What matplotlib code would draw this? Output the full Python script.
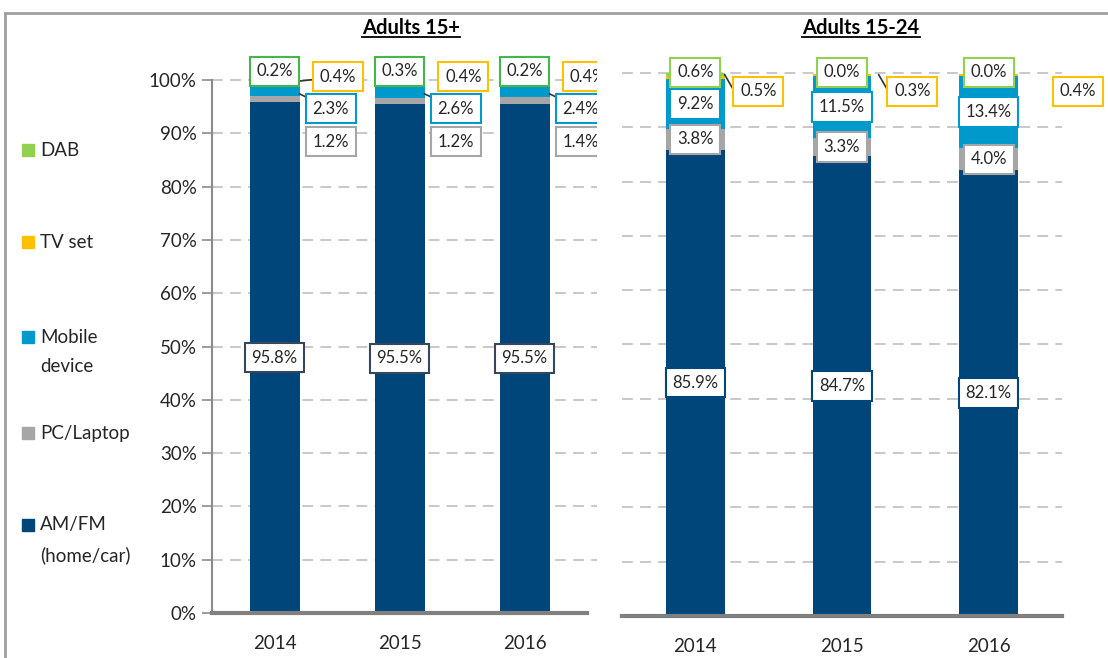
import matplotlib
matplotlib.use("Agg")
import matplotlib.pyplot as plt
from matplotlib.patches import Rectangle
from matplotlib.lines import Line2D

plt.rcParams['font.family'] = ['Lato', 'DejaVu Sans']

# ---- data (share of listening, %) ----
years = ['2014', '2015', '2016']
categories = ['AM/FM\n(home/car)', 'PC/Laptop', 'Mobile\ndevice', 'TV set', 'DAB']

amfm_15 = [95.8, 95.5, 95.5]
pc_15 = [1.2, 1.2, 1.4]
mobile_15 = [2.3, 2.6, 2.4]
tv_15 = [0.4, 0.4, 0.4]
dab_15 = [0.2, 0.3, 0.2]

amfm_1524 = [85.9, 84.7, 82.1]
pc_1524 = [3.8, 3.3, 4.0]
mobile_1524 = [9.2, 11.5, 13.4]
tv_1524 = [0.5, 0.3, 0.4]
dab_1524 = [0.6, 0.0, 0.0]

NAVY = '#00467a'
GRAY = '#a6a6a6'
BLUE = '#0099cc'
GOLD = '#ffc000'
GREEN = '#92d050'
TEXT = '#262626'
colors = [NAVY, GRAY, BLUE, GOLD, GREEN]

W, H = 1108, 658
fig = plt.figure(figsize=(W / 100, H / 100), dpi=100)


def px_axes(left, right, bottom, top):
    return fig.add_axes([left / W, 1 - bottom / H, (right - left) / W, (bottom - top) / H])


def label(ax, text, xy, xytext, edge, leader=False, clip=True, conn="arc3"):
    kw = dict(ha='center', va='center', fontsize=12, color=TEXT, zorder=5,
              bbox=dict(boxstyle='square,pad=0.4', fc='white', ec=edge, lw=1.5),
              annotation_clip=False, clip_on=clip)
    if leader:
        kw['arrowprops'] = dict(arrowstyle='-', color='#333333', lw=1.2,
                                shrinkA=0, shrinkB=0, connectionstyle=conn)
    ax.annotate(text, xy=xy, xytext=xytext, **kw)


def base_axes(ax, xlim):
    ax.set_xlim(*xlim)
    ax.set_ylim(0, 105)
    ax.set_axisbelow(True)
    for s in ('top', 'right'):
        ax.spines[s].set_visible(False)
    ax.spines['bottom'].set_color('#808080')
    ax.spines['bottom'].set_linewidth(3)
    ax.spines['bottom'].set_bounds(-0.5, 2.5)
    ax.hlines(range(10, 101, 10), xlim[0], xlim[1], colors='#c4c4c4',
              linestyles=(0, (6, 4)), lw=1.3, zorder=0)
    ax.set_xticks(range(len(years)))
    ax.set_xticklabels(years, fontsize=13.5, color=TEXT)
    ax.tick_params(axis='x', length=0, pad=16)


def stack(ax, series, width):
    bottoms = [0.0] * len(years)
    mids = []
    for vals, c in zip(series, colors):
        ax.bar(range(len(years)), vals, width=width, bottom=bottoms, color=c, zorder=2)
        mids.append([b + v / 2 for b, v in zip(bottoms, vals)])
        bottoms = [b + v for b, v in zip(bottoms, vals)]
    return mids


# ---- left panel: Adults 15+ ----
axL = px_axes(212, 597, 613, 613 - 105 * 5.33)
base_axes(axL, (-0.5, 2.58))
axL.spines['left'].set_color('#8c8c8c')
axL.spines['left'].set_linewidth(1.5)
axL.spines['left'].set_bounds(0, 100)
axL.set_yticks(range(0, 101, 10))
axL.set_yticklabels([f'{v}%' for v in range(0, 101, 10)], fontsize=13.5, color=TEXT)
axL.tick_params(axis='y', direction='out', length=7, color='#8c8c8c', width=1.2, pad=4)

mids = stack(axL, [amfm_15, pc_15, mobile_15, tv_15, dab_15], 0.40)
for i in range(len(years)):
    label(axL, f'{amfm_15[i]:.1f}%', (i, mids[0][i]), (i, mids[0][i]), '#34475c')
    label(axL, f'{pc_15[i]:.1f}%', (i + 0.2, mids[1][i]), (i + 0.45, 88.4), GRAY)
    label(axL, f'{mobile_15[i]:.1f}%', (i + 0.2, 97.4), (i + 0.45, 94.6), BLUE, leader=True)
    label(axL, f'{tv_15[i]:.1f}%', (i + 0.2, 99.8), (i + 0.51, 100.6), GOLD, leader=(i == 0))
    label(axL, f'{dab_15[i]:.1f}%', (i, 101.6), (i, 101.6), '#45b649')

# ---- right panel: Adults 15-24 ----
axR = px_axes(622, 1062, 616, 616 - 105 * 5.43)
base_axes(axR, (-0.5, 2.5))
axR.spines['left'].set_visible(False)
axR.set_yticks([])

mids = stack(axR, [amfm_1524, pc_1524, mobile_1524, tv_1524, dab_1524], 0.40)
tv_dx = [0.43, 0.48, 0.61]
for i in range(len(years)):
    label(axR, f'{amfm_1524[i]:.1f}%', (i, mids[0][i]), (i, mids[0][i]), NAVY, clip=False)
    label(axR, f'{pc_1524[i]:.1f}%', (i, mids[1][i]), (i, mids[1][i]), GRAY, clip=False)
    label(axR, f'{mobile_1524[i]:.1f}%', (i, mids[2][i]), (i, mids[2][i]), BLUE, clip=False)
    label(axR, f'{tv_1524[i]:.1f}%', (i + 0.2 + 0.05 * i, 99.7), (i + tv_dx[i], 96.6), GOLD,
          leader=(i < 2), clip=False, conn="angle,angleA=0,angleB=-60,rad=0")
    label(axR, f'{dab_1524[i]:.1f}%', (i, 100.1), (i, 100.1), GREEN, clip=False)

# ---- panel titles (underlined) ----
titles = [('Adults 15+', 411), ('Adults 15-24', 861)]
renderer = fig.canvas.get_renderer()
for t, xc in titles:
    txt = fig.text(xc / W, 1 - 28 / H, t, ha='center', va='center',
                   fontsize=14.5, fontweight='bold', color='black')
    bb = txt.get_window_extent(renderer).transformed(fig.transFigure.inverted())
    fig.add_artist(Line2D([bb.x0, bb.x1], [1 - 37 / H] * 2, color='black', lw=1.3,
                          transform=fig.transFigure))

# ---- legend on the left ----
legend_y = [(540, 'AM/FM\n(home/car)'), (433, 'PC/Laptop'), (352, 'Mobile\ndevice'),
            (242, 'TV set'), (150, 'DAB')]
for (y, name), c in zip(legend_y, colors):
    first_line = y - 15 if '\n' in name else y
    fig.add_artist(Rectangle((22 / W, 1 - (first_line + 6) / H), 12 / W, 12 / H,
                             color=c, transform=fig.transFigure))
    fig.text(40 / W, 1 - y / H, name, ha='left', va='center', fontsize=13.5,
             color=TEXT, linespacing=1.9)

# ---- outer frame ----
fig.add_artist(Line2D([5 / W, 1], [1 - 13 / H] * 2, color='#a0a0a0', lw=2,
                      transform=fig.transFigure))
fig.add_artist(Line2D([5 / W] * 2, [0, 1 - 13 / H], color='#a0a0a0', lw=2,
                      transform=fig.transFigure))

fig.savefig('out.png', dpi=100)
